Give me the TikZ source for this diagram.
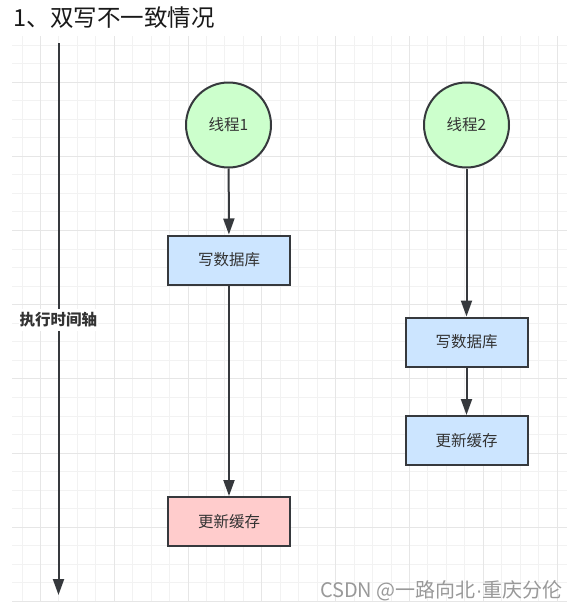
\documentclass[tikz,border=0pt]{standalone}
\usepackage{fontspec}
\setmainfont{Noto Sans CJK SC}
\newfontfamily\schmal{Liberation Sans}
\usepackage{tikz}
\usetikzlibrary{arrows.meta,positioning,backgrounds}

\definecolor{gruen}{HTML}{CCFFCC}
\definecolor{blau}{HTML}{CCE5FF}
\definecolor{rosa}{HTML}{FFCCCC}
\definecolor{linie}{HTML}{36393D}
\definecolor{schrift}{HTML}{333333}
\definecolor{gitterfein}{HTML}{F2F2F2}
\definecolor{gittergrob}{HTML}{E6E6E6}

\tikzset{
  rand/.style={draw=linie,line width=2pt},
  schrifttext/.style={text=schrift,font=\fontsize{15.5}{18}\selectfont},
  kreis/.style={rand,schrifttext,circle,fill=gruen,minimum size=85pt,inner sep=0pt},
  kasten/.style={rand,schrifttext,rectangle,fill=blau,minimum width=122pt,minimum height=49pt,inner sep=0pt},
  pfeil/.style={line width=2pt,draw=linie,-{Triangle[length=16pt,width=11pt]}},
}

\begin{document}
\begin{tikzpicture}[x=1pt,y=-1pt]
\useasboundingbox (0,0) rectangle (579,608);
\fill[white] (0,0) rectangle (579,608);
%Raster: fein alle 18.5, grob jede vierte Linie
\foreach \gx in {0,...,29}{
\draw[gitterfein,line width=1pt] (22+\gx*18.45,36) -- (22+\gx*18.45,602);
}
\foreach \gy in {0,...,30}{
\draw[gitterfein,line width=1pt] (12,45+\gy*18.55) -- (567,45+\gy*18.55);
}
\foreach \gx in {1,5,...,29}{
\draw[gittergrob,line width=1pt] (22+\gx*18.45,36) -- (22+\gx*18.45,602);
}
\foreach \gy in {2,6,...,30}{
\draw[gittergrob,line width=1pt] (12,45+\gy*18.55) -- (567,45+\gy*18.55);
}

\node[anchor=west,text=black!90,font=\fontsize{23.5}{28}\selectfont] (titel) at (10,18) {1、双写不一致情况};

%Zeitachse
\coordinate (achseOben) at (58.5,43);
\coordinate (achseUnten) at (58.5,595);
\draw[pfeil] (achseOben) -- (achseUnten);
\node[fill=white,inner xsep=1pt,inner ysep=4pt,text=schrift,font=\fontsize{15.5}{18}\selectfont\bfseries] (achse) at (58.5,320) {执行时间轴};

%Thread 1
\node[kreis] (t1) at (228.5,125) {线程1};
\node[kasten] (db1) at (229,260) {写数据库};
\node[kasten,fill=rosa] (cache1) at (229,521.5) {更新缓存};
%Thread 2
\node[kreis] (t2) at (466.5,125) {线程2};
\node[kasten] (db2) at (466.5,342) {写数据库};
\node[kasten] (cache2) at (466.5,440.5) {更新缓存};

\draw[pfeil] (t1) -- (db1);
\draw[pfeil] (db1) -- (cache1);
\draw[pfeil] (t2) -- (db2);
\draw[pfeil] (db2) -- (cache2);

\node[anchor=east,text=gray!80,font=\fontsize{20}{24}\selectfont] (wasserzeichen) at (566,591) {CSDN @一路向北{\schmal ·}重庆分伦};
\end{tikzpicture}
\end{document}
